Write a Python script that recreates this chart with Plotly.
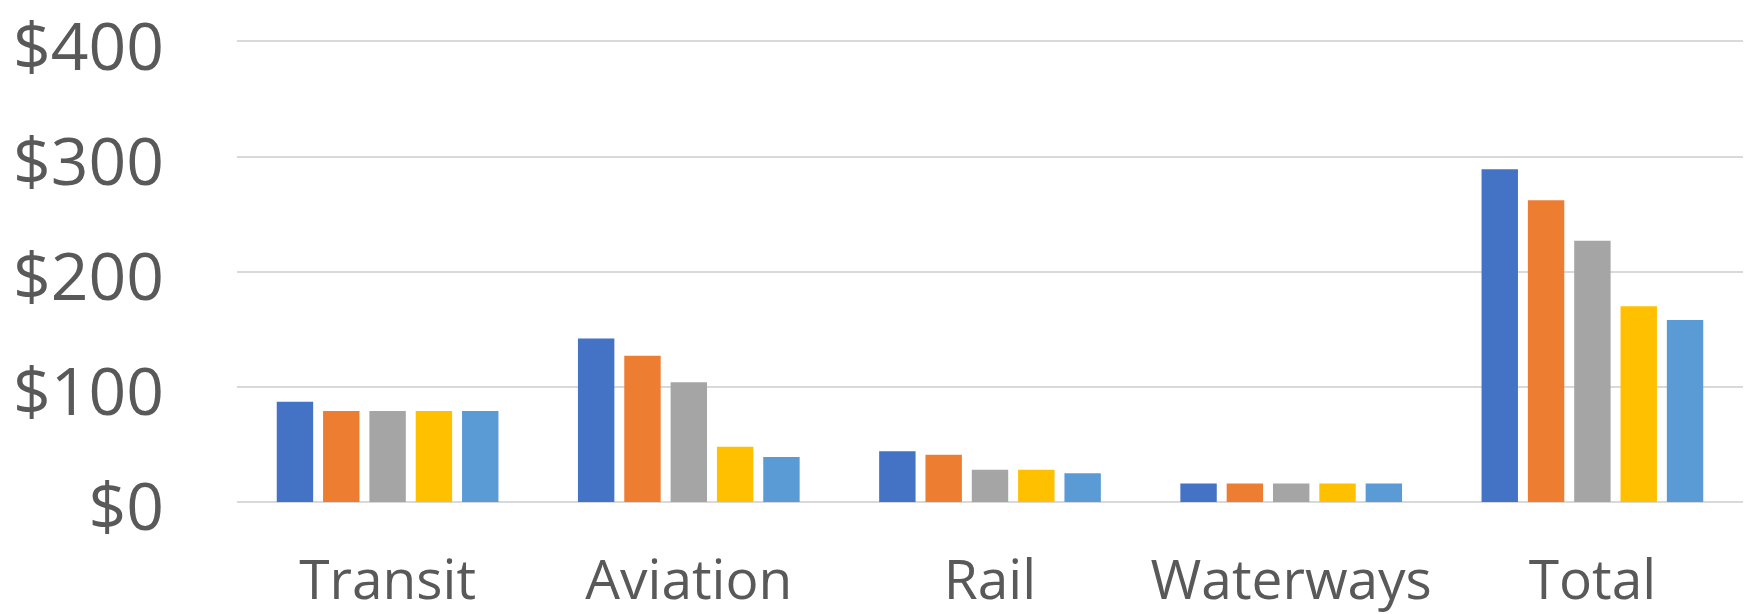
import plotly.graph_objects as go

categories = ["Transit", "Aviation", "Rail", "Waterways", "Total"]
series_names = ["Series 1", "Series 2", "Series 3", "Series 4", "Series 5"]
series_1 = [87, 142, 44, 16, 289]
series_2 = [79, 127, 41, 16, 262]
series_3 = [79, 104, 28, 16, 227]
series_4 = [79, 48, 28, 16, 170]
series_5 = [79, 39, 25, 16, 158]
y_tick_values = [0, 100, 200, 300, 400]
y_tick_labels = ["$0", "$100", "$200", "$300", "$400"]

colors = ["#4472C4", "#ED7D31", "#A5A5A5", "#FFC000", "#5B9BD5"]
all_series = [series_1, series_2, series_3, series_4, series_5]

fig = go.Figure()
for name, vals, col in zip(series_names, all_series, colors):
    fig.add_trace(go.Bar(x=categories, y=vals, name=name, marker_color=col,
                         marker_line_width=0))

font_family = "Open Sans, Noto Sans, sans-serif"
fig.update_layout(
    width=1751, height=614,
    margin=dict(l=229, r=16, t=30, b=120),
    paper_bgcolor="white", plot_bgcolor="white",
    barmode="group", bargap=0.231, bargroupgap=0.214,
    showlegend=False,
    font=dict(family=font_family, color="#595959"),
)
fig.update_xaxes(
    showgrid=False, showline=False, ticks="", automargin=False,
    tickfont=dict(size=55, color="#595959", family=font_family),
    ticklabelstandoff=41,
)
fig.update_yaxes(
    range=[0, 403], tickvals=y_tick_values, ticktext=y_tick_labels,
    showgrid=True, gridcolor="#D9D9D9", gridwidth=2,
    zeroline=True, zerolinecolor="#D9D9D9", zerolinewidth=2,
    showline=False, ticks="", automargin=False,
    tickfont=dict(size=66, color="#595959", family=font_family),
    ticklabelstandoff=72, ticklabeloverflow="allow", ticklabelshift=5,
)
fig.write_html("out.html")
